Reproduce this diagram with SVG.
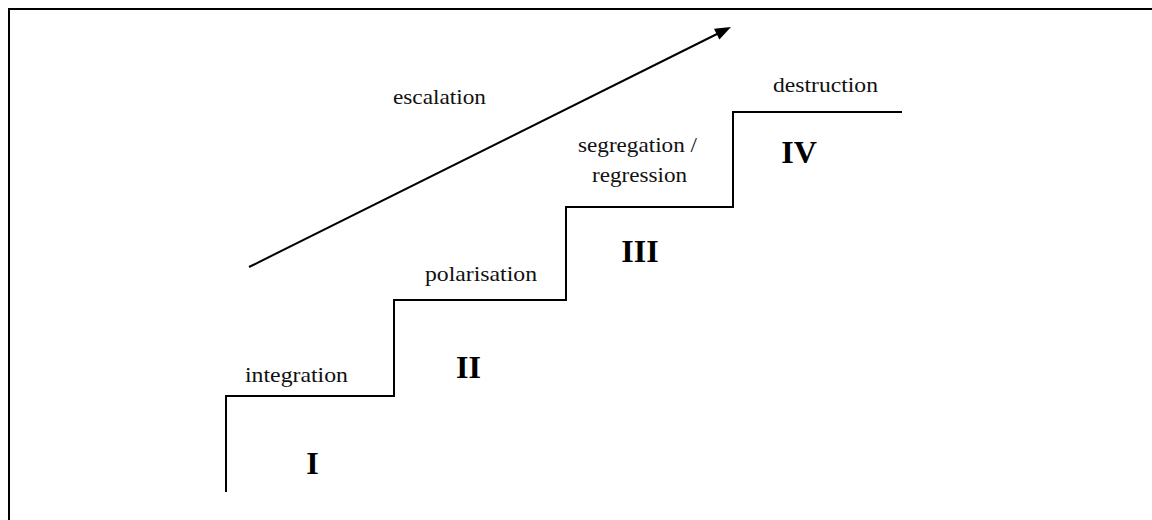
<svg xmlns="http://www.w3.org/2000/svg" width="1152" height="520" viewBox="0 0 1152 520">
<style>
.line{fill:none;stroke:#000;stroke-width:2;stroke-linejoin:miter;stroke-linecap:butt}
.lbl{font-family:"Liberation Serif","Times New Roman",serif;font-size:21px;fill:#111;text-anchor:middle}
.num{font-family:"Liberation Serif","Times New Roman",serif;font-size:32px;font-weight:bold;fill:#000;text-anchor:middle}
</style>
<rect width="1152" height="520" fill="#fff"/>
<path class="line" d="M9,521 V9 H1153" stroke-width="2.5"/>
<g id="connectors">
<path class="line" d="M226,492 V396 H394 V300 H566 V207 H733 V112 H902"/>
<line class="line" x1="249" y1="267" x2="717" y2="34"/>
<polygon points="731,27 719.4,39.6 714,28.8" fill="#000"/>
</g>
<g id="escalation"><text class="lbl" x="439.5" y="104" textLength="93" lengthAdjust="spacingAndGlyphs">escalation</text></g>
<g id="stage1"><text class="lbl" x="296.5" y="382" textLength="103" lengthAdjust="spacingAndGlyphs">integration</text><text class="num" x="312.5" y="474">I</text></g>
<g id="stage2"><text class="lbl" x="481" y="281" textLength="112" lengthAdjust="spacingAndGlyphs">polarisation</text><text class="num" x="468.5" y="378">II</text></g>
<g id="stage3"><text class="lbl" x="637.5" y="152" textLength="119" lengthAdjust="spacingAndGlyphs">segregation /</text><text class="lbl" x="639.5" y="182" textLength="95" lengthAdjust="spacingAndGlyphs">regression</text><text class="num" x="640" y="262">III</text></g>
<g id="stage4"><text class="lbl" x="825.5" y="92" textLength="105" lengthAdjust="spacingAndGlyphs">destruction</text><text class="num" x="799" y="163">IV</text></g>
</svg>
